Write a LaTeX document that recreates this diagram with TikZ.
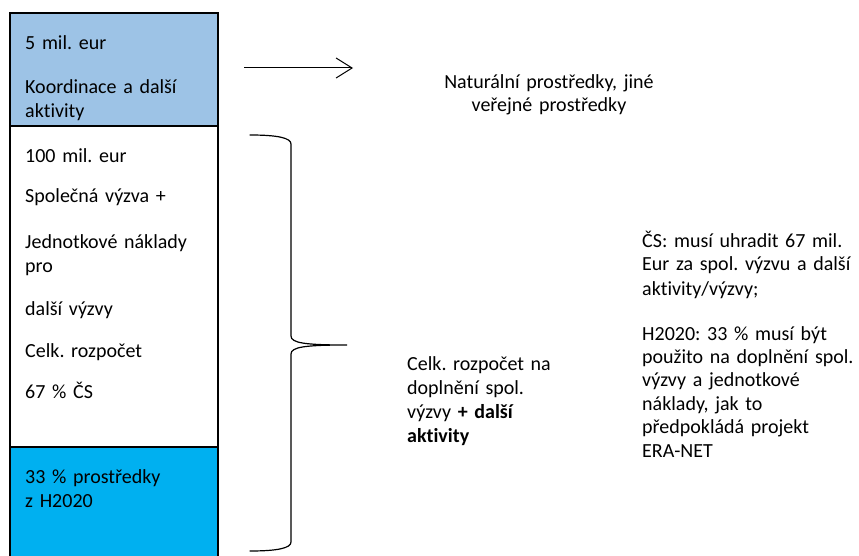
\documentclass[tikz,border=0pt]{standalone}
\usepackage{fontspec}
\setmainfont{Carlito}[Ligatures=NoCommon]
\frenchspacing
\usetikzlibrary{arrows.meta}
\definecolor{lightfill}{HTML}{9DC3E6}
\definecolor{darkfill}{HTML}{00B0F0}
\begin{document}
\begin{tikzpicture}[x=1pt,y=-1pt,
  box/.style={draw=black,line width=2pt},
  txt/.style={anchor=base west,inner sep=0pt,align=left,text width=#1,
    font=\fontsize{20}{24}\selectfont},
  txt/.default=190pt]
\useasboundingbox (0,0) rectangle (859,556);
\clip (0,0) rectangle (859,556);
% boxes
\fill[lightfill] (10,13) rectangle (218,126);
\fill[white] (10,126) rectangle (218,447);
\fill[darkfill] (10,447) rectangle (218,566);
\draw[box] (10,566) -- (10,13) -- (218,13) -- (218,566);
\draw[box] (10,126) -- (218,126);
\draw[box] (10,447) -- (218,447);
% box texts
\node[txt] (t1) at (25,50) {5 mil. eur};
\node[txt] (t2) at (25,94) {Koordinace a další\\aktivity};
\node[txt] (t3) at (25,163) {100 mil. eur};
\node[txt] (t4) at (25,203) {Společná výzva +};
\node[txt] (t5) at (25,248) {Jednotkové náklady\\pro};
\node[txt] (t6) at (25,315) {další výzvy};
\node[txt] (t7) at (25,357) {Celk. rozpočet};
\node[txt] (t8) at (25,398) {67 \% ČS};
\node[txt] (t9) at (25,483) {33 \% prostředky\\z H2020};
% arrow
\coordinate (a1) at (244,68);
\coordinate (a2) at (353,68);
\draw[line width=1pt,-{Straight Barb[length=16pt,width=20pt,line width=1pt]}] (a1) -- (a2);
\node[anchor=base,inner sep=0pt,align=center,text width=230pt,
  font=\fontsize{20}{23}\selectfont] (nat) at (549,89)
  {Naturální prostředky, jiné\\veřejné prostředky};
% brace
\draw[line width=1.2pt,line cap=round]
  (250,135) .. controls (278,135) and (291,138) .. (291,144)
  -- (291,336) .. controls (291,343) and (305,345) .. (347,345)
  .. controls (305,345) and (291,347) .. (291,354)
  -- (291,542) .. controls (291,548) and (278,551) .. (250,551);
% right texts
\node[txt=200pt] (celk) at (407,370)
  {Celk. rozpočet na\\doplnění spol.\\výzvy \textbf{+ další}\\\textbf{aktivity}};
\node[txt=215pt] (cs) at (642,247)
  {ČS: musí uhradit 67 mil.\\Eur za spol. výzvu a další\\aktivity/výzvy;};
\node[txt=215pt,font=\fontsize{20}{23.4}\selectfont] (h2020) at (642,340)
  {H2020: 33 \% musí být\\použito na doplnění spol.\\výzvy a jednotkové\\náklady, jak to\\předpokládá projekt\\ERA-NET};
\end{tikzpicture}
\end{document}
